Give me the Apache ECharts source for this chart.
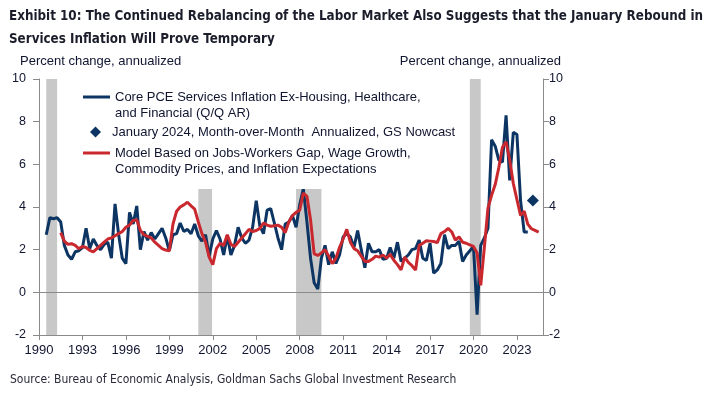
<html>
    <head>
        <meta charset="utf-8">
        <script src="https://cdn.jsdelivr.net/npm/echarts@6/dist/echarts.min.js"></script>
    </head>
    <body>
        <style>
            html, body, #main {
                width: 100%;
                height: 100%;
                margin: 0;
                background: #fff;
            }
        </style>
        <div id="main"></div>
        <script>

        // quarterly, Q/Q AR, first point 1990 Q3
        var coreStart = 1990.5;
        var coreValues = [
            2.7, 3.5,
            3.45, 3.5, 3.3, 2.2,
            1.75, 1.55, 1.9, 1.95,
            2.1, 3.0, 2.05, 2.5,
            2.2, 2.0, 2.25, 2.35,
            1.6, 4.15, 2.7, 1.6,
            1.35, 3.75, 3.2, 4.05,
            2.0, 2.85, 2.45, 2.8,
            2.5, 2.75, 3.0, 2.55,
            1.95, 2.7, 2.75, 3.25,
            2.85, 2.95, 2.75, 3.2,
            2.65, 2.4, 2.7, 1.7,
            2.5, 2.9, 2.5, 1.75,
            2.65, 1.75, 2.2, 3.05,
            2.55, 2.3, 2.45, 3.05,
            4.3, 3.1, 2.75, 3.85,
            3.92, 3.25, 2.55, 2.0,
            3.2, 3.3, 3.6, 3.05,
            4.1, 4.85, 3.3, 1.6,
            0.45, 0.15, 1.6, 2.2,
            1.3, 1.9, 1.35, 1.75,
            2.6, 2.75, 2.6, 2.1,
            2.9, 2.0, 1.15, 2.3,
            1.9, 1.9, 2.0, 1.55,
            1.6, 2.1, 1.6, 2.35,
            1.45, 1.6, 1.75, 2.0,
            2.05, 2.45, 1.6, 1.5,
            2.3, 0.9, 1.05, 1.35,
            2.7, 2.05, 2.2, 2.2,
            2.4, 1.45, 1.75, 1.95,
            2.15, -1.05, 2.2, 2.55,
            3.0, 7.15, 6.85, 6.2,
            6.1, 8.3, 5.25, 7.5,
            7.4, 4.3, 2.83, 2.83
        ];

        // model estimate, first point 1991 Q3
        var modelStart = 1991.5;
        var modelValues = [
            2.8, 2.4,
            2.25, 2.28, 2.2, 2.05,
            2.15, 2.1, 1.97, 1.9,
            2.05, 2.2, 2.35, 2.5,
            2.55, 2.65, 2.75, 2.85,
            3.05, 3.15, 3.37, 3.4,
            2.9, 2.7, 2.62, 2.55,
            2.35, 2.2, 2.05, 1.98,
            1.95, 3.2, 3.8, 4.0,
            4.1, 4.22, 4.05, 3.9,
            3.3, 2.75, 2.35, 1.65,
            1.3, 2.05, 2.3, 2.2,
            2.7, 2.25, 2.15, 2.35,
            2.55, 2.75, 2.95, 2.85,
            2.9, 3.0, 3.25, 3.15,
            3.1, 3.12, 3.15, 3.05,
            2.8, 3.3, 3.6, 3.75,
            3.85, 4.65, 4.5, 3.4,
            1.8, 1.73, 1.85, 2.0,
            1.7, 1.35, 1.6, 2.1,
            2.5, 2.95, 2.35, 2.05,
            1.95, 1.7, 1.45, 1.45,
            1.55, 1.7, 1.65, 1.75,
            1.6, 1.78, 1.5, 1.3,
            1.05, 1.65, 1.4, 1.25,
            1.05, 2.2, 2.3, 2.42,
            2.4, 2.38, 2.33, 2.75,
            2.85, 3.0, 2.83, 2.45,
            2.6, 2.35, 2.3, 2.22,
            2.15, 1.85, 0.33, 2.1,
            3.95, 4.55, 5.05, 5.85,
            6.8, 7.05, 6.2, 5.1,
            4.35, 3.6, 3.8, 3.2,
            2.98, 2.9, 2.82
        ];

        var nowcast = [[2024.1, 4.3]];

        var recessions = [[1990.5, 1991.25], [2001.0, 2001.95], [2007.75, 2009.5], [2019.75, 2020.5]];

        var yearBase = 1990;
        var yearTicks = 3;

        // leading blank line keeps the icon level with the first text line
        var names = {
            core: '\nCore PCE Services Inflation Ex-Housing, Healthcare,\nand Financial (Q/Q AR)',
            nowcast: 'January 2024, Month-over-Month  Annualized, GS Nowcast',
            model: '\nModel Based on Jobs-Workers Gap, Wage Growth,\nCommodity Prices, and Inflation Expectations'
        };

        function quarterly(start, values) {
            return values.map(function (v, i) {
                return [start - yearBase + i * 0.25, v];
            });
        }

        var navy = '#0d3563';
        var red = '#c8282e';
        var ink = '#101530';
        var font = '"Liberation Sans", Arial, sans-serif';
        var narrow = '"Liberation Sans Narrow", "DejaVu Sans Condensed", sans-serif';
        var lineIcon = 'path://M0,0H27V3H0Z';

        var chart = echarts.init(document.getElementById('main'));

        function yAxis(pos, margin) {
            return {
                type: 'value',
                position: pos,
                min: -2,
                max: 10,
                interval: 2,
                axisLine: { show: true, lineStyle: { color: '#8a8a8a', width: 1 } },
                axisTick: { show: true, length: 6, lineStyle: { color: '#8a8a8a' } },
                splitLine: { show: false },
                axisLabel: { color: ink, fontSize: 12.5, fontFamily: font, margin: margin }
            };
        }

        function legendText(extra) {
            var s = { color: ink, fontSize: 13, fontFamily: font, lineHeight: 16 };
            for (var k in extra) s[k] = extra[k];
            return s;
        }

        chart.setOption({
            animation: false,
            backgroundColor: '#fff',
            title: [
                {
                    text: 'Exhibit 10: The Continued Rebalancing of the Labor Market Also Suggests that the January Rebound in\nServices Inflation Will Prove Temporary',
                    left: 9,
                    top: 5,
                    padding: 0,
                    textStyle: { color: '#1b1d2b', fontSize: 13.3, fontWeight: 'bold', fontFamily: narrow, lineHeight: 23 }
                },
                {
                    text: 'Source: Bureau of Economic Analysis, Goldman Sachs Global Investment Research',
                    left: 10,
                    top: 374,
                    padding: 0,
                    textStyle: { color: '#2a2a3a', fontSize: 12, fontWeight: 'normal', fontFamily: narrow }
                },
                {
                    text: 'Percent change, annualized',
                    left: 20,
                    top: 55,
                    padding: 0,
                    textStyle: { color: ink, fontSize: 13, fontWeight: 'normal', fontFamily: font }
                },
                {
                    text: 'Percent change, annualized',
                    right: 149,
                    top: 55,
                    padding: 0,
                    textStyle: { color: ink, fontSize: 13, fontWeight: 'normal', fontFamily: font }
                }
            ],
            legend: [
                {
                    data: [{ name: 'core', icon: lineIcon }],
                    formatter: function (n) { return names[n]; },
                    left: 83,
                    top: 73,
                    padding: [0, 6, 68, 0],
                    backgroundColor: '#fff',
                    itemWidth: 27,
                    itemHeight: 14,
                    selectedMode: false,
                    textStyle: legendText({})
                },
                {
                    data: ['nowcast'],
                    formatter: function (n) { return names[n]; },
                    left: 90,
                    top: 124,
                    padding: 0,
                    itemWidth: 11,
                    itemHeight: 11,
                    selectedMode: false,
                    itemStyle: { opacity: 1 },
                    textStyle: legendText({ padding: [0, 0, 0, 6] })
                },
                {
                    data: [{ name: 'model', icon: lineIcon }],
                    formatter: function (n) { return names[n]; },
                    left: 83,
                    top: 129,
                    padding: 0,
                    itemWidth: 27,
                    itemHeight: 14,
                    selectedMode: false,
                    textStyle: legendText({})
                }
            ],
            grid: {
                left: 39,
                right: 167,
                top: 79,
                bottom: 63
            },
            xAxis: {
                type: 'value',
                min: 0,
                max: 34.8,
                interval: yearTicks,
                axisLine: { show: true, onZero: false, lineStyle: { color: '#8a8a8a', width: 1 } },
                axisTick: { show: true, length: 5, lineStyle: { color: '#8a8a8a' } },
                splitLine: { show: false },
                axisLabel: {
                    color: ink,
                    fontSize: 13,
                    fontFamily: font,
                    margin: 9,
                    showMaxLabel: false,
                    formatter: function (v) {
                        return Math.abs(v % yearTicks) < 1e-6 ? String(yearBase + v) : '';
                    }
                }
            },
            yAxis: [yAxis('left', 13), yAxis('right', 6)],
            series: [
                {
                    name: 'core',
                    type: 'line',
                    symbol: 'none',
                    z: 3,
                    lineStyle: { color: navy, width: 3 },
                    itemStyle: { color: navy },
                    data: quarterly(coreStart, coreValues),
                    markArea: {
                        silent: true,
                        itemStyle: { color: '#c8c8c8' },
                        data: recessions.map(function (r) {
                            return [{ xAxis: r[0] - yearBase }, { xAxis: r[1] - yearBase }];
                        })
                    },
                    markLine: {
                        silent: true,
                        symbol: 'none',
                        z: 1,
                        label: { show: false },
                        lineStyle: { color: '#8a8a8a', width: 1, type: 'solid' },
                        data: [{ yAxis: 0 }]
                    }
                },
                {
                    name: 'model',
                    type: 'line',
                    symbol: 'none',
                    z: 3,
                    lineStyle: { color: red, width: 3 },
                    itemStyle: { color: red },
                    data: quarterly(modelStart, modelValues)
                },
                {
                    name: 'nowcast',
                    type: 'scatter',
                    symbol: 'diamond',
                    symbolSize: 12,
                    z: 3,
                    itemStyle: { color: navy, opacity: 1 },
                    data: nowcast.map(function (p) { return [p[0] - yearBase, p[1]]; })
                }
            ]
        });

        </script>
    </body>
</html>
